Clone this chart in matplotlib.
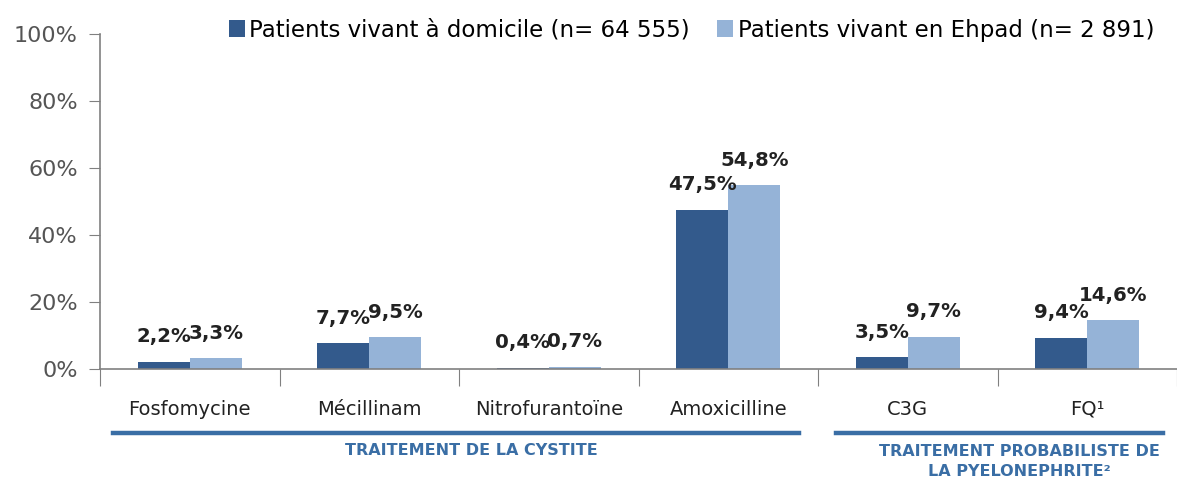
import numpy as np
from matplotlib import pyplot as plt

categories = ["Fosfomycine", "Mécillinam", "Nitrofurantoïne", "Amoxicilline", "C3G", "FQ¹"]
domicile = [2.2, 7.7, 0.4, 47.5, 3.5, 9.4]
ehpad = [3.3, 9.5, 0.7, 54.8, 9.7, 14.6]
series_names = ["Patients vivant à domicile (n= 64 555)", "Patients vivant en Ehpad (n= 2 891)"]
groups = ["TRAITEMENT DE LA CYSTITE", "TRAITEMENT PROBABILISTE DE\nLA PYELONEPHRITE²"]

dark = "#335a8c"
light = "#95b3d7"
group_col = "#3a6ea5"
grey = "#808080"

fig = plt.figure(figsize=(11.77, 4.84), dpi=100)
ax = fig.add_axes([0.085, 0.2376, 0.915, 0.692])

x = np.arange(len(categories))
w = 0.29
b1 = ax.bar(x - w / 2, domicile, w, color=dark, label=series_names[0])
b2 = ax.bar(x + w / 2, ehpad, w, color=light, label=series_names[1])

def fmt(v):
    return f"{v:.1f}%".replace(".", ",")

for bars, vals in [(b1, domicile), (b2, ehpad)]:
    for r, v in zip(bars, vals):
        ax.annotate(fmt(v), (r.get_x() + r.get_width() / 2, v), xytext=(0, 14),
                    textcoords="offset points", ha="center", va="baseline",
                    fontsize=14.2, fontweight="bold", color="#222222")

ax.set_ylim(0, 100)
ax.set_xlim(-0.5, 5.42)
ax.set_yticks([0, 20, 40, 60, 80, 100])
ax.set_yticklabels([f"{t}%" for t in [0, 20, 40, 60, 80, 100]], fontsize=16, color="#555555")
ax.tick_params(axis="y", length=8, color=grey, pad=8)

ax.set_xticks(np.arange(len(categories) + 1) - 0.5)
ax.set_xticklabels([])
ax.tick_params(axis="x", which="major", length=12, color=grey)
ax.set_xticks(x, minor=True)
ax.set_xticklabels(categories, minor=True, fontsize=14, color="#222222")
ax.tick_params(axis="x", which="minor", length=0, pad=22)

for s in ["top", "right"]:
    ax.spines[s].set_visible(False)
for s in ["left", "bottom"]:
    ax.spines[s].set_color(grey)
    ax.spines[s].set_linewidth(1.2)

# group brackets under the category labels
tr = ax.get_xaxis_transform()
ax.plot([-0.43, 3.395], [-0.19, -0.19], transform=tr, clip_on=False, color=group_col, lw=3.2)
ax.plot([3.6, 5.42], [-0.19, -0.19], transform=tr, clip_on=False, color=group_col, lw=3.2)
ax.text(1.57, -0.243, groups[0], transform=tr, ha="center", va="center",
        fontsize=11.5, fontweight="bold", color=group_col)
ax.text(4.62, -0.225, groups[1], transform=tr, ha="center", va="top",
        fontsize=11.5, fontweight="bold", color=group_col, linespacing=1.35)

fig.legend(loc="center", bbox_to_anchor=(0.5875, 0.938), ncol=2, frameon=False,
           fontsize=16.5, handlelength=0.7, handleheight=0.7, handletextpad=0.2,
           columnspacing=1.2)

fig.savefig("out.png", dpi=100)
